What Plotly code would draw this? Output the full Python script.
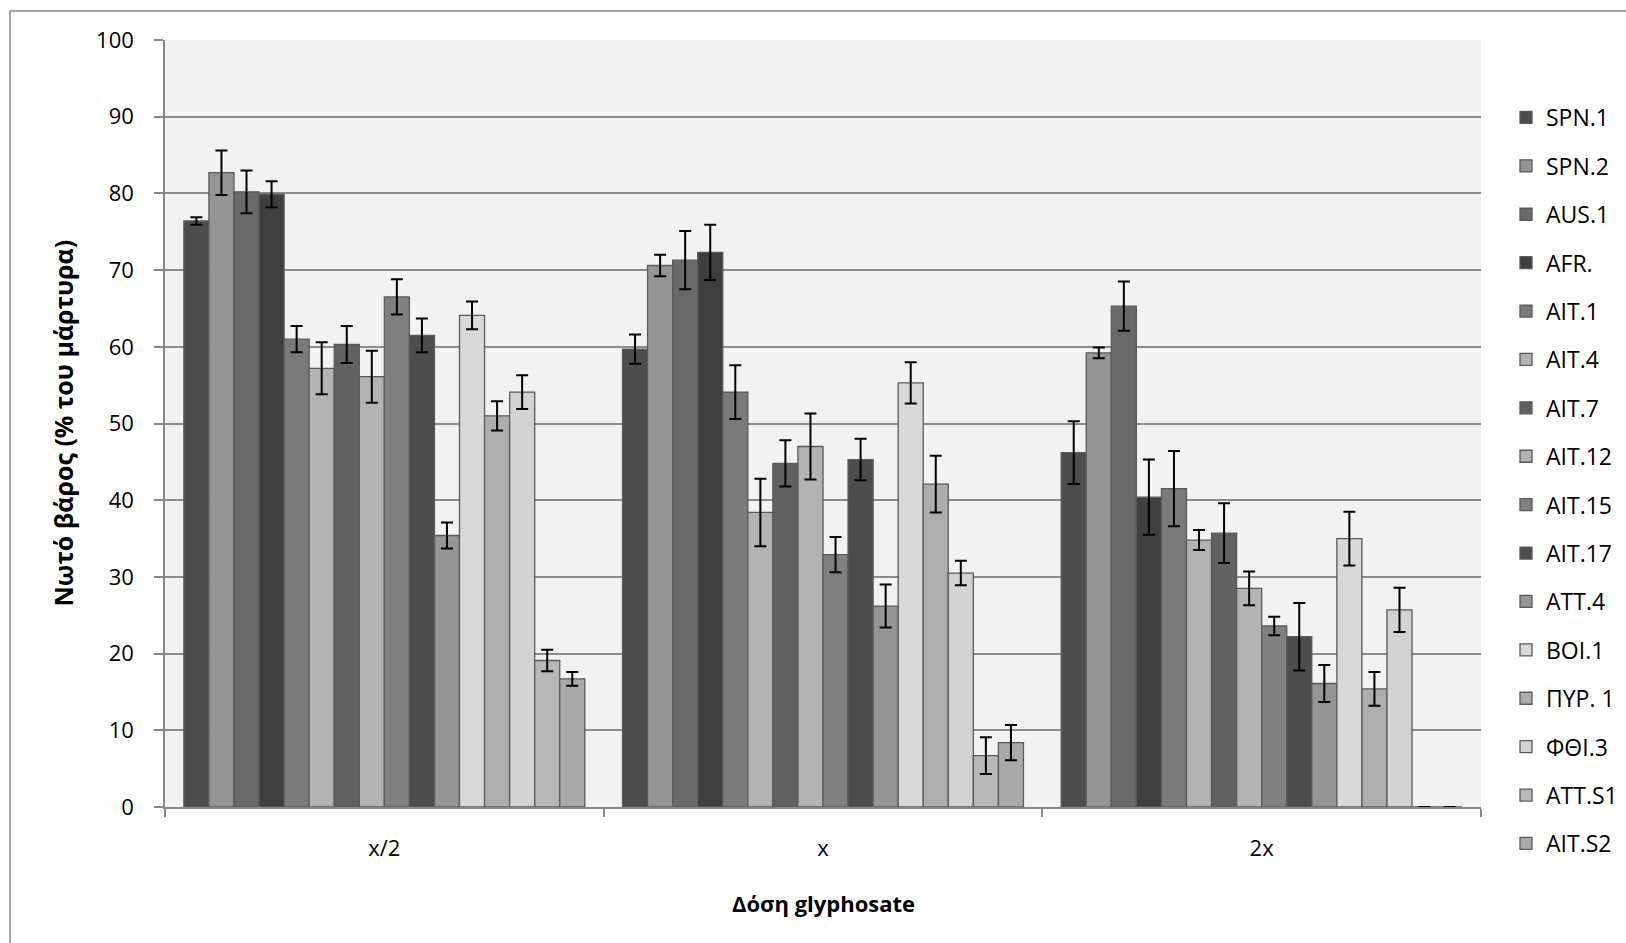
import plotly.graph_objects as go

# Glyphosate dose groups
doses = ["x/2", "x", "2x"]

# Populations (one bar series each)
populations = ["SPN.1", "SPN.2", "AUS.1", "AFR.", "AIT.1", "AIT.4", "AIT.7", "AIT.12",
               "AIT.15", "AIT.17", "ATT.4", "BOI.1", "ΠΥΡ. 1", "ΦΘΙ.3", "ATT.S1", "AIT.S2"]

# Dry weight (% of control) per population, for doses x/2, x, 2x
spn1 = [76.4, 59.7, 46.2]
spn2 = [82.7, 70.6, 59.2]
aus1 = [80.2, 71.3, 65.3]
afr = [79.9, 72.3, 40.4]
ait1 = [61.0, 54.1, 41.5]
ait4 = [57.2, 38.4, 34.8]
ait7 = [60.3, 44.8, 35.7]
ait12 = [56.1, 47.0, 28.5]
ait15 = [66.5, 32.9, 23.6]
ait17 = [61.5, 45.3, 22.2]
att4 = [35.4, 26.2, 16.1]
boi1 = [64.1, 55.3, 35.0]
pyr1 = [51.0, 42.1, 15.4]
fthi3 = [54.1, 30.5, 25.7]
atts1 = [19.1, 6.7, 0.0]
aits2 = [16.7, 8.4, 0.0]

# Standard errors
spn1_err = [0.5, 1.9, 4.1]
spn2_err = [2.9, 1.4, 0.7]
aus1_err = [2.8, 3.8, 3.2]
afr_err = [1.7, 3.6, 4.9]
ait1_err = [1.7, 3.5, 4.9]
ait4_err = [3.4, 4.4, 1.3]
ait7_err = [2.4, 3.0, 3.9]
ait12_err = [3.4, 4.3, 2.2]
ait15_err = [2.3, 2.3, 1.2]
ait17_err = [2.2, 2.7, 4.4]
att4_err = [1.7, 2.8, 2.4]
boi1_err = [1.8, 2.7, 3.5]
pyr1_err = [1.9, 3.7, 2.2]
fthi3_err = [2.2, 1.6, 2.9]
atts1_err = [1.4, 2.4, 0.0]
aits2_err = [0.9, 2.3, 0.0]

values = [spn1, spn2, aus1, afr, ait1, ait4, ait7, ait12,
          ait15, ait17, att4, boi1, pyr1, fthi3, atts1, aits2]
errors = [spn1_err, spn2_err, aus1_err, afr_err, ait1_err, ait4_err, ait7_err, ait12_err,
          ait15_err, ait17_err, att4_err, boi1_err, pyr1_err, fthi3_err, atts1_err, aits2_err]

# Grey fill for each population
fills = ["#4d4d4d", "#959595", "#696969", "#3f3f3f", "#7a7a7a", "#b3b3b3", "#616161", "#b3b3b3",
         "#808080", "#4d4d4d", "#959595", "#d9d9d9", "#adadad", "#d3d3d3", "#b8b8b8", "#a9a9a9"]

FONT = "Open Sans, Noto Sans, sans-serif"

fig = go.Figure()
for i, (name, vals, errs, col) in enumerate(zip(populations, values, errors, fills)):
    fig.add_trace(go.Bar(
        x=doses, y=vals, name=name, legendgroup=f"g{i}",
        marker=dict(color=col, line=dict(color="#5a5a5a", width=1.3)),
        error_y=dict(type="data", array=errs, visible=True,
                     color="#000000", thickness=2, width=6),
    ))

W, H = 1626, 943
L, R, T, B = 165, 145, 40, 136
pw, ph = W - L - R, H - T - B


def px_x(p):
    return (p - L) / pw


def px_y(p):
    return (H - B - p) / ph


fig.update_layout(
    width=W, height=H,
    margin=dict(l=L, r=R, t=T, b=B, autoexpand=False),
    barmode="group", bargap=0.086, bargroupgap=0,
    paper_bgcolor="#ffffff", plot_bgcolor="#f2f2f2",
    font=dict(family=FONT, size=22, color="#000000"),
    showlegend=True,
    legend=dict(x=px_x(1506), y=px_y(96), xanchor="left", yanchor="top",
                tracegroupgap=15.5, font=dict(size=23), bgcolor="rgba(0,0,0,0)",
                itemwidth=30, maxheight=930),
    xaxis=dict(showgrid=False, showline=True, linecolor="#888888", linewidth=1.5,
               ticks="outside", tickson="boundaries", ticklen=8, tickcolor="#888888",
               tickwidth=1.5, ticklabelstandoff=21, tickfont=dict(size=22)),
    yaxis=dict(range=[0, 100], dtick=10, showgrid=True, gridcolor="#8c8c8c",
               gridwidth=1.5, showline=True, linecolor="#888888", linewidth=1.5,
               ticks="outside", ticklen=9, tickcolor="#888888", tickwidth=1.5,
               ticklabelstandoff=16, zeroline=False, tickfont=dict(size=22)),
    annotations=[
        dict(text="<b>Νωτό βάρος (% του μάρτυρα)</b>", xref="paper", yref="paper",
             x=px_x(62), y=0.5, textangle=-90, showarrow=False,
             xanchor="center", yanchor="middle", font=dict(size=25)),
        dict(text="<b>Δόση glyphosate</b>", xref="paper", yref="paper",
             x=0.5, y=px_y(903), showarrow=False,
             xanchor="center", yanchor="middle", font=dict(size=22)),
    ],
    shapes=[
        dict(type="rect", xref="paper", yref="paper",
             x0=px_x(10), y0=px_y(960), x1=px_x(1640), y1=px_y(11),
             line=dict(color="#8a8a8a", width=1.5), fillcolor="rgba(0,0,0,0)", layer="below"),
    ],
)

fig.write_html("out.html")
